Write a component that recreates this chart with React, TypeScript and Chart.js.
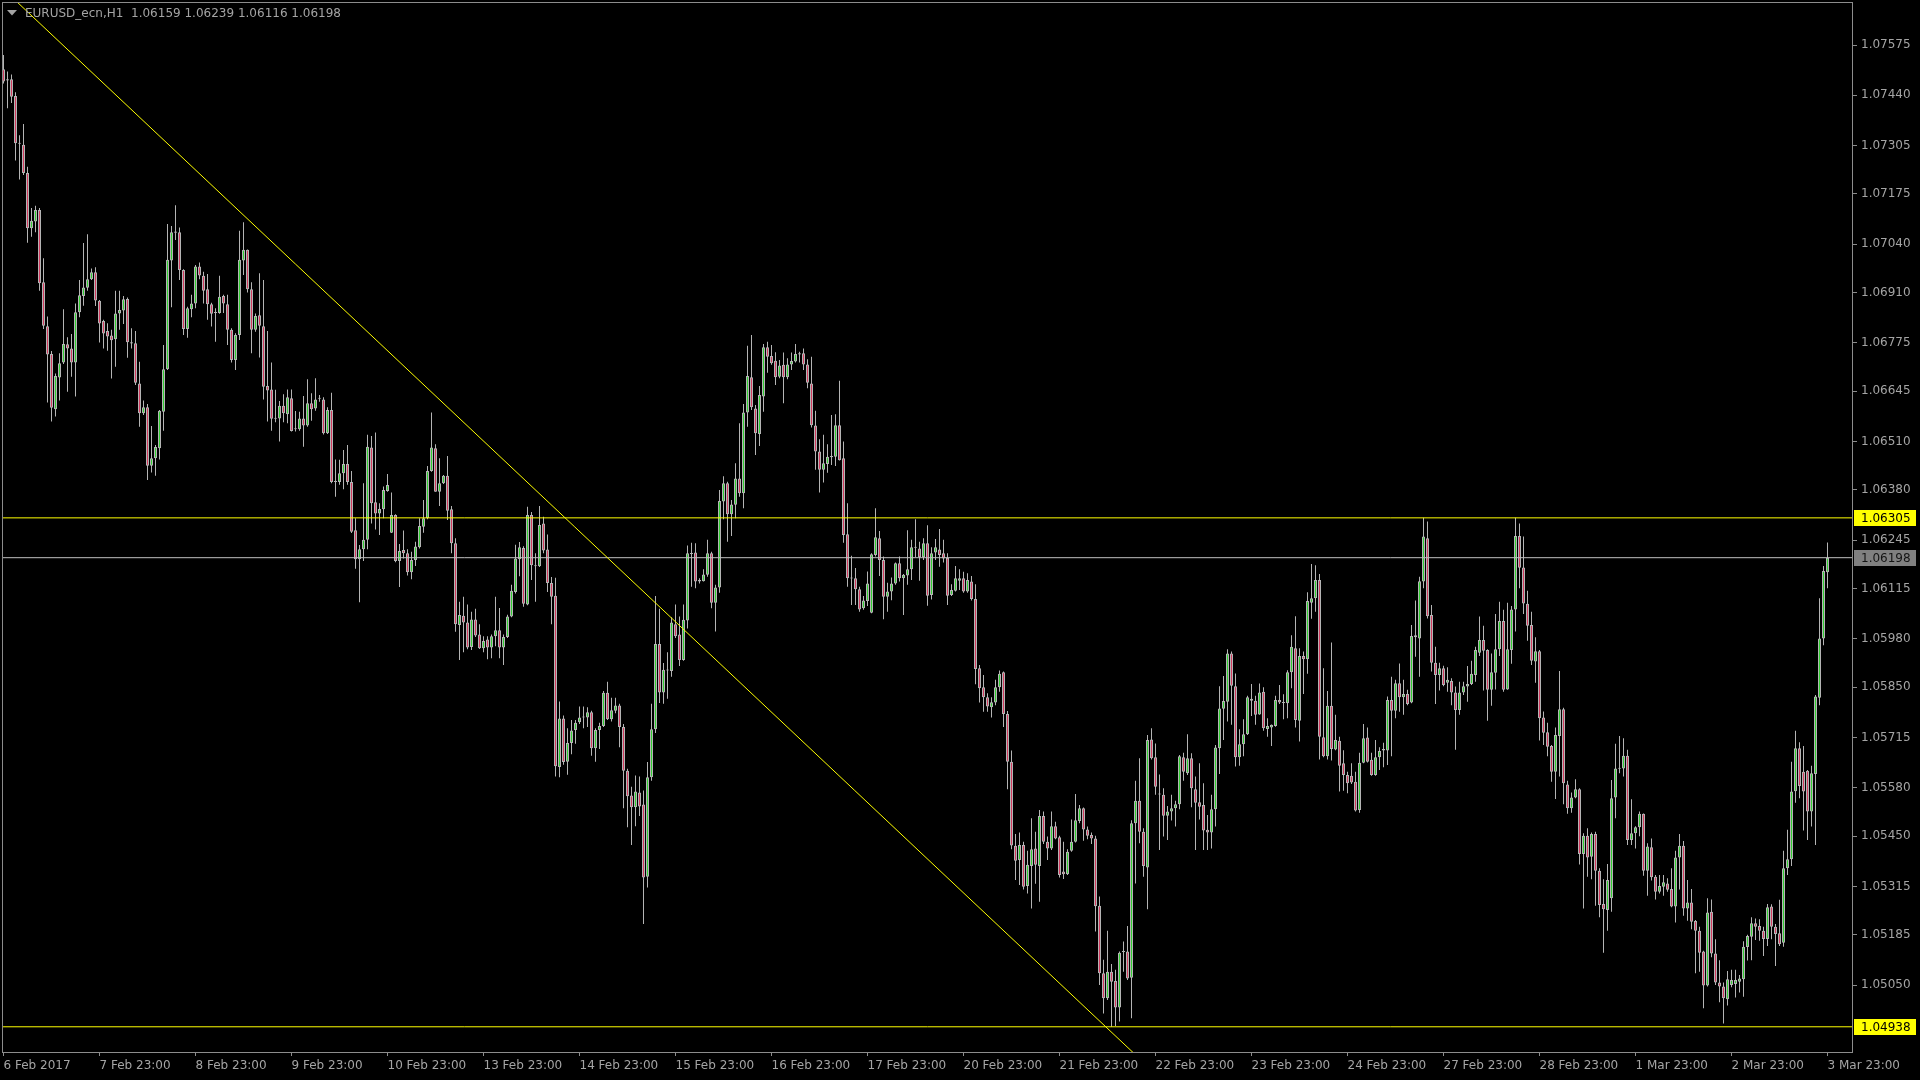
import React, { useEffect, useRef } from "react";
import { Chart, registerables } from "chart.js";

Chart.register(...registerables);

// ---- Data (EURUSD_ecn, H1) ----
const symbolName = "EURUSD_ecn";
const timeframe = "H1";

const opens = [
  1.07510,1.07483,1.07483,1.07438,1.07312,1.07307,1.07231,1.07083,1.07101,1.07132,
  1.06938,1.06820,1.06745,1.06597,1.06682,1.06722,1.06771,1.06760,1.06722,1.06857,
  1.06901,1.06923,1.06946,1.06965,1.06888,1.06834,1.06807,1.06795,1.06785,1.06854,
  1.06862,1.06893,1.06777,1.06774,1.06666,1.06586,1.06602,1.06445,1.06465,1.06492,
  1.06590,1.06704,1.06996,1.07074,1.07072,1.06971,1.06812,1.06865,1.06881,1.06980,
  1.06955,1.06919,1.06879,1.06856,1.06855,1.06901,1.06879,1.06810,1.06729,1.06796,
  1.06996,1.07025,1.06919,1.06810,1.06849,1.06820,1.06659,1.06650,1.06572,1.06572,
  1.06606,1.06583,1.06626,1.06543,1.06543,1.06572,1.06553,1.06613,1.06599,1.06625,
  1.06623,1.06532,1.06595,1.06401,1.06401,1.06425,1.06450,1.06401,1.06272,1.06194,
  1.06221,1.06246,1.06494,1.06347,1.06317,1.06328,1.06377,1.06265,1.06313,1.06189,
  1.06219,1.06210,1.06159,1.06192,1.06226,1.06281,1.06304,1.06431,1.06492,1.06375,
  1.06398,1.06418,1.06328,1.06237,1.06017,1.06042,1.06024,1.05958,1.06032,1.05992,
  1.05955,1.05978,1.05957,1.05987,1.06003,1.05957,1.05985,1.06040,1.06106,1.06194,
  1.06224,1.06072,1.06313,1.06178,1.06175,1.06290,1.06220,1.06130,1.06096,1.05636,
  1.05766,1.05650,1.05700,1.05735,1.05756,1.05769,1.05769,1.05783,1.05686,1.05735,
  1.05746,1.05835,1.05764,1.05787,1.05801,1.05743,1.05626,1.05559,1.05528,1.05567,
  1.05535,1.05341,1.05608,1.05737,1.05966,1.05836,1.05895,1.05894,1.06019,1.05992,
  1.05923,1.06029,1.06210,1.06212,1.06138,1.06135,1.06152,1.06210,1.06077,1.06118,
  1.06349,1.06398,1.06315,1.06340,1.06411,1.06371,1.06588,1.06683,1.06599,1.06530,
  1.06631,1.06763,1.06740,1.06727,1.06684,1.06716,1.06683,1.06717,1.06725,1.06744,
  1.06747,1.06717,1.06666,1.06553,1.06483,1.06434,1.06450,1.06468,1.06469,1.06554,
  1.06465,1.06261,1.06144,1.06143,1.06113,1.06062,1.06082,1.06050,1.06205,1.06250,
  1.06192,1.06093,1.06107,1.06129,1.06183,1.06143,1.06150,1.06167,1.06226,1.06223,
  1.06199,1.06237,1.06098,1.06212,1.06220,1.06210,1.06198,1.06098,1.06109,1.06136,
  1.06143,1.06107,1.06134,1.06087,1.05901,1.05850,1.05823,1.05796,1.05809,1.05850,
  1.05890,1.05778,1.05650,1.05424,1.05386,1.05426,1.05316,1.05370,1.05417,1.05370,
  1.05504,1.05435,1.05417,1.05477,1.05447,1.05355,1.05348,1.05411,1.05435,1.05491,
  1.05525,1.05468,1.05453,1.05444,1.05263,1.05082,1.05015,1.05086,1.05061,1.04990,
  1.05139,1.05140,1.05070,1.05485,1.05545,1.05462,1.05366,1.05710,1.05662,1.05563,
  1.05561,1.05505,1.05516,1.05525,1.05536,1.05662,1.05619,1.05659,1.05576,1.05541,
  1.05534,1.05467,1.05460,1.05522,1.05686,1.05792,1.05811,1.05941,1.05853,1.05662,
  1.05697,1.05724,1.05814,1.05814,1.05777,1.05838,1.05738,1.05742,1.05746,1.05816,
  1.05810,1.05807,1.05890,1.05955,1.05760,1.05934,1.05925,1.06077,1.06089,1.06138,
  1.05716,1.05665,1.05800,1.05683,1.05706,1.05646,1.05614,1.05612,1.05596,1.05520,
  1.05647,1.05715,1.05655,1.05614,1.05662,1.05680,1.05680,1.05816,1.05787,1.05861,
  1.05823,1.05832,1.05809,1.05990,1.05981,1.06134,1.06250,1.06044,1.05916,1.05883,
  1.05901,1.05862,1.05867,1.05836,1.05789,1.05836,1.05852,1.05859,1.05883,1.05943,
  1.05977,1.05950,1.05843,1.05889,1.05952,1.06028,1.05844,1.05950,1.06059,1.06256,
  1.06172,1.06074,1.06017,1.05919,1.05947,1.05769,1.05729,1.05692,1.05623,1.05719,
  1.05791,1.05589,1.05525,1.05554,1.05576,1.05402,1.05451,1.05395,1.05456,1.05357,
  1.05268,1.05252,1.05283,1.05554,1.05631,1.05632,1.05666,1.05440,1.05458,1.05474,
  1.05510,1.05357,1.05420,1.05341,1.05301,1.05314,1.05323,1.05308,1.05261,1.05393,
  1.05424,1.05256,1.05272,1.05222,1.05196,1.05140,1.05049,1.05247,1.05135,1.05057,
  1.05046,1.05012,1.05050,1.05053,1.05059,1.05066,1.05152,1.05180,1.05216,1.05209,
  1.05196,1.05174,1.05261,1.05207,1.05189,1.05164,1.05364,1.05388,1.05571,1.05686,
  1.05623,1.05626,1.05516,1.05617,1.05822,1.05981,1.06159,
];

const highs = [
  1.07548,1.07504,1.07496,1.07448,1.07333,1.07363,1.07248,1.07137,1.07143,1.07137,
  1.07002,1.06846,1.06753,1.06693,1.06747,1.06865,1.06790,1.06799,1.06881,1.06944,
  1.07043,1.07067,1.06975,1.06978,1.06890,1.06837,1.06828,1.06810,1.06915,1.06915,
  1.06901,1.06897,1.06814,1.06807,1.06724,1.06620,1.06611,1.06552,1.06501,1.06595,
  1.06769,1.07094,1.07089,1.07145,1.07085,1.06973,1.06872,1.06904,1.06984,1.06991,
  1.06966,1.06960,1.06883,1.06868,1.06955,1.06904,1.06904,1.06814,1.06801,1.07076,
  1.07099,1.07026,1.06938,1.06854,1.06962,1.06944,1.06807,1.06722,1.06649,1.06619,
  1.06637,1.06650,1.06650,1.06592,1.06590,1.06632,1.06677,1.06640,1.06680,1.06635,
  1.06629,1.06602,1.06641,1.06462,1.06461,1.06487,1.06501,1.06431,1.06304,1.06232,
  1.06398,1.06528,1.06525,1.06534,1.06344,1.06389,1.06423,1.06373,1.06315,1.06235,
  1.06271,1.06221,1.06214,1.06241,1.06304,1.06353,1.06444,1.06588,1.06503,1.06465,
  1.06420,1.06471,1.06337,1.06250,1.06080,1.06093,1.06072,1.06053,1.06061,1.06019,
  1.05987,1.05987,1.05992,1.06093,1.06063,1.05992,1.06045,1.06125,1.06233,1.06240,
  1.06229,1.06335,1.06321,1.06210,1.06337,1.06308,1.06260,1.06146,1.06144,1.05812,
  1.05774,1.05740,1.05762,1.05762,1.05798,1.05798,1.05796,1.05787,1.05740,1.05755,
  1.05840,1.05865,1.05822,1.05822,1.05806,1.05751,1.05631,1.05583,1.05613,1.05610,
  1.05573,1.05649,1.05806,1.06095,1.06061,1.05915,1.05944,1.06038,1.06072,1.06040,
  1.06072,1.06231,1.06238,1.06237,1.06143,1.06167,1.06246,1.06214,1.06125,1.06380,
  1.06417,1.06402,1.06353,1.06452,1.06559,1.06611,1.06767,1.06796,1.06608,1.06659,
  1.06772,1.06778,1.06769,1.06750,1.06729,1.06749,1.06734,1.06749,1.06772,1.06751,
  1.06760,1.06731,1.06738,1.06593,1.06516,1.06528,1.06503,1.06581,1.06583,1.06673,
  1.06510,1.06344,1.06203,1.06170,1.06120,1.06095,1.06161,1.06210,1.06331,1.06270,
  1.06201,1.06131,1.06145,1.06185,1.06201,1.06154,1.06272,1.06246,1.06301,1.06241,
  1.06250,1.06285,1.06226,1.06248,1.06275,1.06246,1.06210,1.06127,1.06176,1.06167,
  1.06160,1.06156,1.06149,1.06127,1.05910,1.05883,1.05834,1.05823,1.05870,1.05895,
  1.05892,1.05786,1.05680,1.05456,1.05460,1.05435,1.05411,1.05498,1.05462,1.05520,
  1.05516,1.05449,1.05516,1.05489,1.05451,1.05435,1.05415,1.05495,1.05563,1.05534,
  1.05527,1.05476,1.05460,1.05451,1.05288,1.05118,1.05196,1.05107,1.05091,1.05140,
  1.05167,1.05209,1.05493,1.05599,1.05659,1.05471,1.05722,1.05740,1.05699,1.05616,
  1.05579,1.05531,1.05561,1.05545,1.05668,1.05674,1.05724,1.05673,1.05610,1.05646,
  1.05592,1.05507,1.05561,1.05695,1.05853,1.05880,1.05952,1.05946,1.05887,1.05737,
  1.05764,1.05827,1.05859,1.05827,1.05860,1.05850,1.05767,1.05750,1.05827,1.05856,
  1.05831,1.05896,1.05990,1.06041,1.05955,1.05946,1.06105,1.06181,1.06178,1.06154,
  1.05901,1.05840,1.05970,1.05776,1.05717,1.05681,1.05623,1.05646,1.05623,1.05674,
  1.05751,1.05742,1.05674,1.05708,1.05689,1.05701,1.05825,1.05878,1.05870,1.05914,
  1.05870,1.05843,1.06017,1.06083,1.06147,1.06305,1.06295,1.06071,1.05959,1.05916,
  1.05908,1.05904,1.05874,1.05852,1.05865,1.05865,1.05907,1.05921,1.05959,1.06040,
  1.06015,1.05952,1.05941,1.06047,1.06080,1.06058,1.06077,1.06068,1.06305,1.06290,
  1.06255,1.06109,1.06053,1.05984,1.05950,1.05785,1.05755,1.05695,1.05742,1.05894,
  1.05795,1.05599,1.05567,1.05603,1.05579,1.05458,1.05471,1.05460,1.05462,1.05364,
  1.05334,1.05375,1.05601,1.05698,1.05719,1.05713,1.05682,1.05549,1.05477,1.05516,
  1.05511,1.05431,1.05444,1.05346,1.05346,1.05346,1.05337,1.05364,1.05411,1.05456,
  1.05437,1.05332,1.05308,1.05225,1.05207,1.05142,1.05283,1.05280,1.05173,1.05117,
  1.05057,1.05088,1.05091,1.05091,1.05077,1.05168,1.05185,1.05232,1.05229,1.05227,
  1.05207,1.05268,1.05267,1.05214,1.05279,1.05411,1.05467,1.05650,1.05733,1.05702,
  1.05692,1.05628,1.05639,1.05829,1.06089,1.06176,1.06239,
];

const lows = [
  1.07472,1.07405,1.07419,1.07265,1.07214,1.07226,1.07044,1.07060,1.07072,1.06915,
  1.06812,1.06615,1.06564,1.06577,1.06620,1.06718,1.06644,1.06684,1.06631,1.06844,
  1.06875,1.06915,1.06944,1.06874,1.06776,1.06760,1.06754,1.06679,1.06711,1.06810,
  1.06826,1.06735,1.06760,1.06662,1.06550,1.06581,1.06407,1.06427,1.06418,1.06462,
  1.06539,1.06702,1.06871,1.07051,1.06944,1.06796,1.06789,1.06844,1.06868,1.06946,
  1.06881,1.06837,1.06819,1.06778,1.06853,1.06855,1.06769,1.06722,1.06702,1.06783,
  1.06957,1.06910,1.06747,1.06805,1.06736,1.06623,1.06564,1.06539,1.06562,1.06510,
  1.06562,1.06559,1.06537,1.06537,1.06539,1.06496,1.06550,1.06566,1.06593,1.06617,
  1.06529,1.06530,1.06398,1.06362,1.06394,1.06382,1.06394,1.06264,1.06168,1.06078,
  1.06189,1.06221,1.06290,1.06274,1.06259,1.06304,1.06375,1.06264,1.06186,1.06119,
  1.06196,1.06150,1.06140,1.06176,1.06223,1.06265,1.06301,1.06429,1.06375,1.06337,
  1.06396,1.06299,1.06210,1.05999,1.05923,1.05944,1.05952,1.05950,1.05985,1.05953,
  1.05944,1.05925,1.05928,1.05960,1.05928,1.05910,1.05982,1.06038,1.06102,1.06148,
  1.06066,1.06070,1.06138,1.06080,1.06173,1.06210,1.06106,1.06019,1.05610,1.05608,
  1.05642,1.05615,1.05670,1.05698,1.05751,1.05740,1.05743,1.05666,1.05650,1.05684,
  1.05743,1.05762,1.05758,1.05780,1.05689,1.05525,1.05474,1.05426,1.05477,1.05504,
  1.05214,1.05312,1.05599,1.05727,1.05808,1.05806,1.05819,1.05878,1.05982,1.05907,
  1.05921,1.06008,1.06120,1.06116,1.06129,1.06134,1.06147,1.06062,1.06000,1.06104,
  1.06301,1.06241,1.06256,1.06304,1.06362,1.06331,1.06550,1.06595,1.06474,1.06498,
  1.06590,1.06695,1.06716,1.06662,1.06680,1.06613,1.06677,1.06702,1.06722,1.06722,
  1.06702,1.06653,1.06548,1.06434,1.06373,1.06400,1.06426,1.06447,1.06444,1.06459,
  1.06238,1.06120,1.06071,1.06071,1.06053,1.06058,1.06068,1.06049,1.06201,1.06149,
  1.06033,1.06053,1.06084,1.06125,1.06134,1.06044,1.06125,1.06138,1.06199,1.06136,
  1.06192,1.06069,1.06086,1.06192,1.06174,1.06185,1.06071,1.06095,1.06107,1.06111,
  1.06104,1.06104,1.06083,1.05858,1.05809,1.05784,1.05784,1.05769,1.05802,1.05838,
  1.05743,1.05576,1.05415,1.05332,1.05319,1.05307,1.05296,1.05256,1.05322,1.05274,
  1.05429,1.05386,1.05413,1.05442,1.05339,1.05335,1.05346,1.05408,1.05433,1.05485,
  1.05438,1.05442,1.05429,1.05194,1.05050,1.04974,1.05010,1.04938,1.04940,1.04952,
  1.05086,1.05064,1.04961,1.05323,1.05431,1.05341,1.05254,1.05656,1.05561,1.05413,
  1.05449,1.05440,1.05492,1.05476,1.05522,1.05599,1.05614,1.05528,1.05413,1.05495,
  1.05413,1.05413,1.05417,1.05476,1.05617,1.05708,1.05758,1.05749,1.05637,1.05639,
  1.05665,1.05722,1.05773,1.05749,1.05776,1.05733,1.05717,1.05692,1.05744,1.05805,
  1.05764,1.05767,1.05847,1.05742,1.05704,1.05832,1.05886,1.06034,1.06053,1.05656,
  1.05662,1.05656,1.05653,1.05681,1.05570,1.05572,1.05565,1.05590,1.05516,1.05513,
  1.05646,1.05648,1.05612,1.05612,1.05628,1.05635,1.05641,1.05665,1.05767,1.05784,
  1.05776,1.05802,1.05807,1.05932,1.05878,1.06116,1.06035,1.05892,1.05805,1.05841,
  1.05853,1.05838,1.05802,1.05682,1.05776,1.05829,1.05811,1.05856,1.05865,1.05934,
  1.05841,1.05760,1.05800,1.05844,1.05934,1.05838,1.05843,1.05913,1.06000,1.06116,
  1.06047,1.05975,1.05910,1.05862,1.05707,1.05695,1.05665,1.05596,1.05550,1.05610,
  1.05536,1.05510,1.05513,1.05552,1.05374,1.05256,1.05341,1.05334,1.05263,1.05232,
  1.05137,1.05196,1.05247,1.05498,1.05619,1.05610,1.05426,1.05426,1.05417,1.05450,
  1.05344,1.05290,1.05331,1.05280,1.05296,1.05290,1.05301,1.05259,1.05218,1.05307,
  1.05236,1.05223,1.05200,1.05082,1.05086,1.04988,1.05046,1.05125,1.05050,1.05004,
  1.04947,1.04995,1.05044,1.05017,1.05030,1.05019,1.05116,1.05117,1.05171,1.05169,
  1.05128,1.05155,1.05173,1.05101,1.05155,1.05153,1.05346,1.05370,1.05540,1.05552,
  1.05465,1.05440,1.05476,1.05426,1.05802,1.05963,1.06116,
];

const closes = [
  1.07477,1.07480,1.07436,1.07311,1.07310,1.07231,1.07083,1.07103,1.07132,1.06935,
  1.06821,1.06744,1.06601,1.06686,1.06720,1.06772,1.06760,1.06722,1.06857,1.06903,
  1.06924,1.06946,1.06965,1.06889,1.06827,1.06800,1.06792,1.06782,1.06854,1.06863,
  1.06892,1.06777,1.06773,1.06668,1.06586,1.06602,1.06445,1.06465,1.06495,1.06593,
  1.06704,1.06998,1.07072,1.07071,1.06971,1.06812,1.06868,1.06881,1.06980,1.06956,
  1.06915,1.06879,1.06853,1.06855,1.06899,1.06881,1.06810,1.06729,1.06796,1.06998,
  1.07025,1.06919,1.06810,1.06847,1.06821,1.06657,1.06647,1.06571,1.06571,1.06606,
  1.06586,1.06629,1.06538,1.06546,1.06572,1.06553,1.06613,1.06597,1.06623,1.06627,
  1.06532,1.06595,1.06401,1.06401,1.06425,1.06450,1.06401,1.06268,1.06194,1.06221,
  1.06246,1.06496,1.06344,1.06317,1.06329,1.06380,1.06393,1.06313,1.06189,1.06216,
  1.06210,1.06159,1.06192,1.06228,1.06283,1.06304,1.06431,1.06494,1.06375,1.06398,
  1.06418,1.06324,1.06237,1.06019,1.06044,1.06024,1.05957,1.06032,1.05989,1.05955,
  1.05974,1.05957,1.05987,1.06003,1.05957,1.05985,1.06040,1.06109,1.06196,1.06226,
  1.06074,1.06313,1.06178,1.06175,1.06286,1.06217,1.06130,1.06093,1.05638,1.05766,
  1.05649,1.05700,1.05734,1.05755,1.05769,1.05770,1.05783,1.05686,1.05735,1.05746,
  1.05835,1.05764,1.05788,1.05801,1.05743,1.05626,1.05557,1.05528,1.05570,1.05530,
  1.05339,1.05608,1.05737,1.05966,1.05836,1.05897,1.05897,1.06024,1.05987,1.05923,
  1.06031,1.06210,1.06208,1.06134,1.06134,1.06153,1.06210,1.06077,1.06118,1.06350,
  1.06398,1.06315,1.06341,1.06411,1.06371,1.06588,1.06686,1.06602,1.06532,1.06635,
  1.06763,1.06738,1.06720,1.06683,1.06714,1.06683,1.06717,1.06726,1.06745,1.06747,
  1.06717,1.06668,1.06554,1.06483,1.06434,1.06452,1.06469,1.06471,1.06554,1.06460,
  1.06259,1.06143,1.06142,1.06113,1.06059,1.06083,1.06129,1.06207,1.06253,1.06192,
  1.06093,1.06107,1.06129,1.06183,1.06143,1.06152,1.06167,1.06226,1.06225,1.06199,
  1.06237,1.06096,1.06210,1.06226,1.06205,1.06196,1.06096,1.06111,1.06143,1.06143,
  1.06107,1.06138,1.06087,1.05899,1.05847,1.05823,1.05798,1.05810,1.05850,1.05886,
  1.05778,1.05650,1.05425,1.05384,1.05426,1.05314,1.05373,1.05415,1.05373,1.05504,
  1.05435,1.05417,1.05477,1.05444,1.05346,1.05348,1.05408,1.05435,1.05493,1.05525,
  1.05468,1.05451,1.05444,1.05262,1.05082,1.05015,1.05086,1.05059,1.04990,1.05137,
  1.05141,1.05068,1.05485,1.05545,1.05462,1.05370,1.05708,1.05659,1.05583,1.05562,
  1.05505,1.05516,1.05525,1.05536,1.05665,1.05623,1.05659,1.05579,1.05540,1.05529,
  1.05465,1.05460,1.05522,1.05688,1.05793,1.05813,1.05941,1.05854,1.05662,1.05697,
  1.05724,1.05823,1.05819,1.05776,1.05836,1.05740,1.05746,1.05749,1.05816,1.05809,
  1.05808,1.05890,1.05959,1.05762,1.05934,1.05925,1.06082,1.06089,1.06138,1.05717,
  1.05665,1.05800,1.05684,1.05708,1.05639,1.05614,1.05592,1.05594,1.05519,1.05647,
  1.05713,1.05650,1.05614,1.05662,1.05679,1.05684,1.05816,1.05787,1.05861,1.05823,
  1.05832,1.05805,1.05988,1.05984,1.06135,1.06255,1.06041,1.05916,1.05883,1.05901,
  1.05856,1.05870,1.05836,1.05789,1.05836,1.05853,1.05859,1.05886,1.05950,1.05977,
  1.05948,1.05843,1.05890,1.05952,1.06028,1.05843,1.05952,1.06059,1.06256,1.06171,
  1.06075,1.06015,1.05921,1.05947,1.05767,1.05728,1.05690,1.05623,1.05722,1.05791,
  1.05592,1.05525,1.05554,1.05576,1.05402,1.05451,1.05393,1.05456,1.05357,1.05265,
  1.05254,1.05332,1.05552,1.05632,1.05633,1.05666,1.05440,1.05458,1.05474,1.05510,
  1.05357,1.05422,1.05340,1.05301,1.05316,1.05326,1.05306,1.05261,1.05393,1.05424,
  1.05256,1.05272,1.05220,1.05196,1.05137,1.05049,1.05245,1.05135,1.05057,1.05046,
  1.05015,1.05066,1.05064,1.05064,1.05068,1.05153,1.05182,1.05216,1.05207,1.05196,
  1.05174,1.05259,1.05207,1.05187,1.05160,1.05364,1.05388,1.05570,1.05686,1.05585,
  1.05570,1.05516,1.05619,1.05825,1.05981,1.06162,1.06198,
];

// x-axis: bar index of each date label (one label every 24 hourly bars)
const xTickIndex = [0, 24, 48, 72, 96, 120, 144, 168, 192, 216, 240, 264, 288, 312, 336, 360, 384, 408, 432, 456];
const xTickLabels = [
  "6 Feb 2017", "7 Feb 23:00", "8 Feb 23:00", "9 Feb 23:00", "10 Feb 23:00",
  "13 Feb 23:00", "14 Feb 23:00", "15 Feb 23:00", "16 Feb 23:00", "17 Feb 23:00",
  "20 Feb 23:00", "21 Feb 23:00", "22 Feb 23:00", "23 Feb 23:00", "24 Feb 23:00",
  "27 Feb 23:00", "28 Feb 23:00", "1 Mar 23:00", "2 Mar 23:00", "3 Mar 23:00",
];

// y-axis price ticks
const yTickValues = [
  1.07575, 1.07440, 1.07305, 1.07175, 1.07040, 1.06910, 1.06775, 1.06645, 1.06510, 1.06380,
  1.06245, 1.06115, 1.05980, 1.05850, 1.05715, 1.05580, 1.05450, 1.05315, 1.05185, 1.05050,
];

// horizontal levels and trend line anchors
const resistanceLevel = 1.06305;
const supportLevel = 1.04938;
const bidPrice = closes[closes.length - 1];
const trendLineX = [0, 290];
const trendLineY = [1.07725, 1.04792];

// visible ranges
const xRange = [-0.375, 462.375];
const yRange = [1.048703, 1.076906];

// ---- styling ----
const BG = "#000000";
const FRAME = "#8c8c8c";
const TEXT = "#a4a4a4";
const WICK = "#b4b4b4";
const BULL = "#32cd32";
const BEAR = "#d03a5e";
const YELLOW = "#ffff00";
const BID = "#c0c0c0";
const FONT = { family: "'DejaVu Sans', Verdana, sans-serif", size: 12 };

export default function App() {
  const canvasRef = useRef<HTMLCanvasElement | null>(null);

  useEffect(() => {
    document.body.style.margin = "0";
    document.body.style.background = BG;
    document.body.style.overflow = "hidden";
    const canvas = canvasRef.current;
    if (!canvas) return;

    const n = opens.length;
    const wickData = opens.map((_, i) => ({ x: i, y: [lows[i], highs[i]] }));
    const bodyData = opens.map((o, i) => ({ x: i, y: [o, closes[i]] }));
    const bodyColors = opens.map((o, i) => (closes[i] > o ? BULL : closes[i] < o ? BEAR : WICK));

    const priceMarks = [
      { value: resistanceLevel, bg: YELLOW, fg: "#000000" },
      { value: bidPrice, bg: "#808080", fg: "#141414" },
      { value: supportLevel, bg: YELLOW, fg: "#000000" },
    ];

    const overlay = {
      id: "mt4Overlay",
      beforeDraw(chart: any) {
        const { ctx, width, height } = chart;
        ctx.save();
        ctx.fillStyle = BG;
        ctx.fillRect(0, 0, width, height);
        ctx.restore();
      },
      afterDraw(chart: any) {
        const { ctx, chartArea: a } = chart;
        const y = chart.scales.y;
        ctx.save();
        // frame
        ctx.strokeStyle = FRAME;
        ctx.lineWidth = 1;
        ctx.strokeRect(a.left + 0.5, a.top + 0.5, a.right - a.left - 1, a.bottom - a.top);
        // price boxes on the right axis
        ctx.font = `${FONT.size}px ${FONT.family}`;
        ctx.textBaseline = "middle";
        ctx.textAlign = "left";
        priceMarks.forEach((m) => {
          const py = Math.round(y.getPixelForValue(m.value));
          ctx.fillStyle = m.bg;
          ctx.fillRect(a.right + 1, py - 8, 62, 16);
          ctx.fillStyle = m.fg;
          ctx.fillText(m.value.toFixed(5), a.right + 8, py + 0.5);
        });
        // title
        ctx.fillStyle = TEXT;
        ctx.beginPath();
        ctx.moveTo(7, 10);
        ctx.lineTo(17, 10);
        ctx.lineTo(12, 15.5);
        ctx.closePath();
        ctx.fill();
        const last = n - 1;
        const title = `${symbolName},${timeframe}  ${opens[last].toFixed(5)} ${highs[last].toFixed(5)} ${lows[last].toFixed(5)} ${closes[last].toFixed(5)}`;
        ctx.fillText(title, 25, 14);
        ctx.restore();
      },
    };

    const hLine = (v: number, color: string) => ({
      type: "line" as const,
      data: [{ x: xRange[0] - 2, y: v }, { x: xRange[1] + 2, y: v }],
      borderColor: color,
      borderWidth: 1,
      pointRadius: 0,
      order: -1,
    });

    const chart = new Chart(canvas, {
      type: "bar",
      data: {
        datasets: [
          {
            type: "line",
            data: trendLineX.map((x, i) => ({ x, y: trendLineY[i] })),
            borderColor: YELLOW,
            borderWidth: 1,
            pointRadius: 0,
            order: -1,
          } as any,
          hLine(resistanceLevel, YELLOW) as any,
          hLine(supportLevel, YELLOW) as any,
          hLine(bidPrice, BID) as any,
          {
            type: "bar",
            data: bodyData as any,
            backgroundColor: bodyColors,
            borderColor: WICK,
            borderWidth: 1,
            borderSkipped: false,
            barThickness: 3,
            minBarLength: 1,
            grouped: false,
            inflateAmount: 0,
            order: 0,
          } as any,
          {
            type: "bar",
            data: wickData as any,
            backgroundColor: WICK,
            borderWidth: 0,
            barThickness: 1,
            grouped: false,
            inflateAmount: 0,
            order: 1,
          } as any,
        ],
      },
      options: {
        responsive: false,
        devicePixelRatio: 1,
        animation: false,
        events: [],
        layout: { padding: { left: 2, top: 2, right: 0, bottom: 0 } },
        plugins: { legend: { display: false }, tooltip: { enabled: false }, title: { display: false } },
        scales: {
          x: {
            type: "linear",
            min: xRange[0],
            max: xRange[1],
            offset: false,
            afterBuildTicks: (s: any) => {
              s.ticks = xTickIndex.map((v) => ({ value: v }));
            },
            afterFit: (s: any) => {
              s.height = 28;
              s.paddingLeft = 0;
              s.paddingRight = 0;
              s.paddingTop = 0;
              s.paddingBottom = 0;
            },
            ticks: {
              autoSkip: false,
              maxRotation: 0,
              minRotation: 0,
              align: "start",
              padding: 3,
              color: TEXT,
              font: FONT,
              callback: (_v: any, i: number) => xTickLabels[i],
            },
            grid: { drawOnChartArea: false, drawTicks: true, tickLength: 4, color: FRAME, offset: false },
            border: { display: false },
          },
          y: {
            type: "linear",
            position: "right",
            min: yRange[0],
            max: yRange[1],
            afterBuildTicks: (s: any) => {
              s.ticks = yTickValues.map((v) => ({ value: v }));
            },
            afterFit: (s: any) => {
              s.width = 67;
              s.paddingLeft = 0;
              s.paddingRight = 0;
              s.paddingTop = 0;
              s.paddingBottom = 0;
            },
            ticks: {
              autoSkip: false,
              padding: 4,
              color: TEXT,
              font: FONT,
              callback: (v: any) => Number(v).toFixed(5),
            },
            grid: { drawOnChartArea: false, drawTicks: true, tickLength: 4, color: FRAME },
            border: { display: false },
          },
        },
      } as any,
      plugins: [overlay],
    });

    return () => chart.destroy();
  }, []);

  return (
    <div style={{ width: 1920, height: 1080, background: BG, overflow: "hidden" }}>
      <canvas ref={canvasRef} width={1920} height={1080} style={{ display: "block" }} />
    </div>
  );
}
